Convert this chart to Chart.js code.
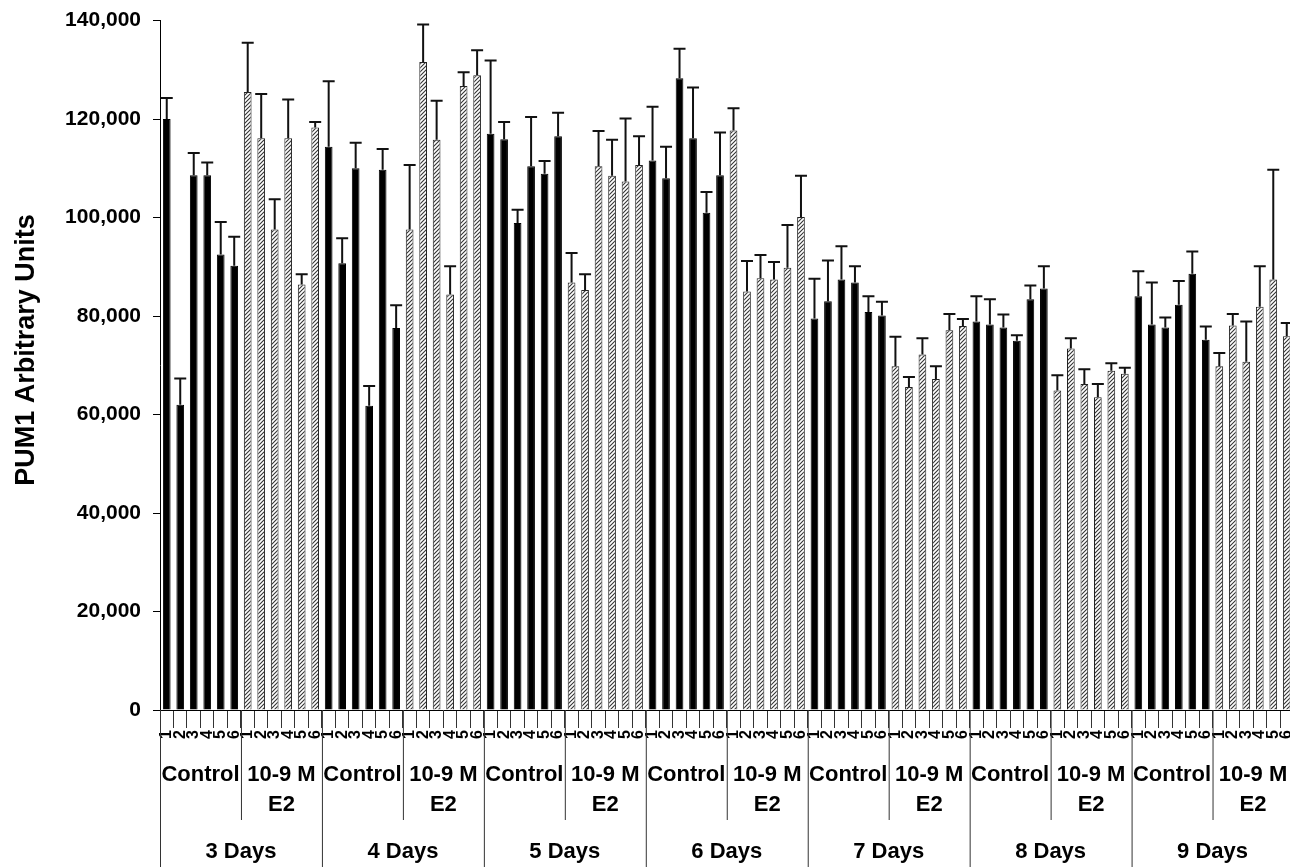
<!DOCTYPE html>
<html>
<head>
<meta charset="utf-8">
<script src="https://cdn.jsdelivr.net/npm/chart.js@4.4.1/dist/chart.umd.min.js"></script>
<style>
  html, body { margin: 0; padding: 0; background: #fff; overflow: hidden; }
  #wrap { width: 1308px; height: 871px; margin-top: -4px; }
</style>
</head>
<body>
<div id="wrap"><canvas id="chart" width="1308" height="871"></canvas></div>
<script>
const dayLabels = ['3 Days', '4 Days', '5 Days', '6 Days', '7 Days', '8 Days', '9 Days'];
const groupLabels = [['Control'], ['10-9 M', 'E2']];
const replicateLabels = ['1', '2', '3', '4', '5', '6'];

// each day: 6 control replicates then 6 E2 replicates
const day3Mean = [120000, 62000, 108600, 108600, 92500, 90200, 125500, 116100, 97600, 116100, 86400, 118300];
const day3Err  = [4300, 5300, 4500, 2600, 6600, 5900, 10000, 9000, 6100, 7900, 2100, 1100];
const day4Mean = [114400, 90700, 110000, 61800, 109700, 77600, 97600, 131600, 115800, 84400, 126700, 128900];
const day4Err  = [13300, 5100, 5200, 4000, 4200, 4600, 13100, 7600, 7900, 5700, 2800, 5100];
const day5Mean = [117000, 115900, 98900, 110400, 108900, 116500, 86800, 85300, 110400, 108500, 107300, 110700];
const day5Err  = [14900, 3500, 2700, 10000, 2600, 4800, 6000, 3200, 7200, 7300, 12800, 5800];
const day6Mean = [111600, 108000, 128300, 116100, 101000, 108600, 117700, 85000, 87700, 87400, 89800, 100100];
const day6Err  = [10900, 6400, 6000, 10300, 4200, 8700, 4500, 6200, 4700, 3600, 8700, 8400];
const day7Mean = [79500, 83000, 87400, 86800, 80800, 80100, 69800, 65600, 72200, 67200, 77100, 78000];
const day7Err  = [8100, 8300, 6800, 3300, 3200, 2800, 6000, 2000, 3300, 2600, 3300, 1400];
const day8Mean = [78900, 78300, 77700, 75000, 83400, 85600, 64900, 73400, 66200, 63500, 68900, 68300];
const day8Err  = [5100, 5100, 2600, 1100, 2800, 4500, 3100, 2100, 3000, 2700, 1500, 1200];
const day9Mean = [84000, 78300, 77700, 82300, 88600, 75200, 69800, 78100, 70700, 81900, 87400, 75900];
const day9Err  = [5100, 8500, 2000, 4800, 4500, 2700, 2700, 2300, 8200, 8200, 22300, 2700];

const means = [].concat(day3Mean, day4Mean, day5Mean, day6Mean, day7Mean, day8Mean, day9Mean);
const errs = [].concat(day3Err, day4Err, day5Err, day6Err, day7Err, day8Err, day9Err);
const labels = means.map((_, i) => replicateLabels[i % 6]);

const FONT = "'Liberation Sans', Arial, sans-serif";

// diagonal hatch for the E2 bars
const hatch = (() => {
  const c = document.createElement('canvas');
  c.width = 4; c.height = 4;
  const g = c.getContext('2d');
  g.fillStyle = '#fff';
  g.fillRect(0, 0, 4, 4);
  g.strokeStyle = '#333';
  g.lineWidth = 1.1;
  g.beginPath();
  g.moveTo(0, 4); g.lineTo(4, 0);
  g.moveTo(-1, 1); g.lineTo(1, -1);
  g.moveTo(3, 5); g.lineTo(5, 3);
  g.stroke();
  return g.createPattern(c, 'repeat');
})();

const isE2 = i => Math.floor(i / 6) % 2 === 1;

const errorBars = {
  id: 'errorBars',
  afterDatasetsDraw(chart) {
    const ctx = chart.ctx;
    const y = chart.scales.y;
    const meta = chart.getDatasetMeta(0);
    ctx.save();
    ctx.strokeStyle = '#111';
    ctx.lineWidth = 2;
    meta.data.forEach((bar, i) => {
      const top = y.getPixelForValue(means[i]);
      const cap = y.getPixelForValue(means[i] + errs[i]);
      ctx.beginPath();
      ctx.moveTo(bar.x, top);
      ctx.lineTo(bar.x, cap);
      ctx.moveTo(bar.x - 6, cap);
      ctx.lineTo(bar.x + 6, cap);
      ctx.stroke();
    });
    ctx.restore();
  }
};

const groupAxis = {
  id: 'groupAxis',
  afterDraw(chart) {
    const ctx = chart.ctx;
    const x = chart.scales.x;
    const bottom = chart.chartArea.bottom;
    const n = means.length;
    const edge = i => i === 0 ? x.left : i === n ? x.right :
      (x.getPixelForValue(i - 1) + x.getPixelForValue(i)) / 2;
    ctx.save();
    ctx.strokeStyle = '#333';
    ctx.lineWidth = 1;
    ctx.fillStyle = '#000';
    ctx.textAlign = 'center';
    ctx.textBaseline = 'middle';
    ctx.font = 'bold 22px ' + FONT;
    dayLabels.forEach((day, d) => {
      const a = edge(d * 12), m = edge(d * 12 + 6), b = edge(d * 12 + 12);
      ctx.beginPath();
      ctx.moveTo(a + 0.5, bottom); ctx.lineTo(a + 0.5, chart.height);
      ctx.moveTo(m + 0.5, bottom); ctx.lineTo(m + 0.5, bottom + 110);
      ctx.stroke();
      groupLabels.forEach((lines, g) => {
        const cx = g === 0 ? (a + m) / 2 : (m + b) / 2;
        lines.forEach((t, k) => ctx.fillText(t, cx, bottom + 65 + k * 30));
      });
      ctx.fillText(day, (a + b) / 2, bottom + 142);
    });
    // y axis title
    ctx.translate(27, 354);
    ctx.rotate(-Math.PI / 2);
    ctx.font = 'bold 27px ' + FONT;
    ctx.fillText('PUM1 Arbitrary Units', 0, 0);
    ctx.restore();
  }
};

new Chart(document.getElementById('chart'), {
  type: 'bar',
  data: {
    labels: labels,
    datasets: [{
      data: means,
      backgroundColor: means.map((_, i) => isE2(i) ? hatch : '#000'),
      borderColor: means.map((_, i) => isE2(i) ? '#222' : '#000'),
      borderWidth: 1,
      barPercentage: 0.57,
      categoryPercentage: 1
    }]
  },
  options: {
    responsive: false,
    animation: false,
    layout: { padding: { top: 16, right: 6, left: 0, bottom: 0 } },
    plugins: { legend: { display: false }, tooltip: { enabled: false } },
    scales: {
      x: {
        offset: true,
        grid: { offset: true, drawOnChartArea: false, tickLength: 18, color: '#333' },
        border: { color: '#000', width: 1 },
        ticks: {
          autoSkip: false, minRotation: 90, maxRotation: 90, padding: 2,
          color: '#000', font: { family: FONT, weight: 'bold', size: 16 }
        },
        afterFit: s => { s.height = 157; }
      },
      y: {
        min: 0,
        max: 140000,
        ticks: {
          stepSize: 20000, padding: 12, color: '#000',
          font: { family: FONT, weight: 'bold', size: 21 },
          callback: v => v.toLocaleString('en-US')
        },
        grid: { drawOnChartArea: false, tickLength: 7, color: '#000' },
        border: { color: '#000', width: 1 },
        afterFit: s => { s.width = 160; }
      }
    }
  },
  plugins: [errorBars, groupAxis]
});
</script>
</body>
</html>
